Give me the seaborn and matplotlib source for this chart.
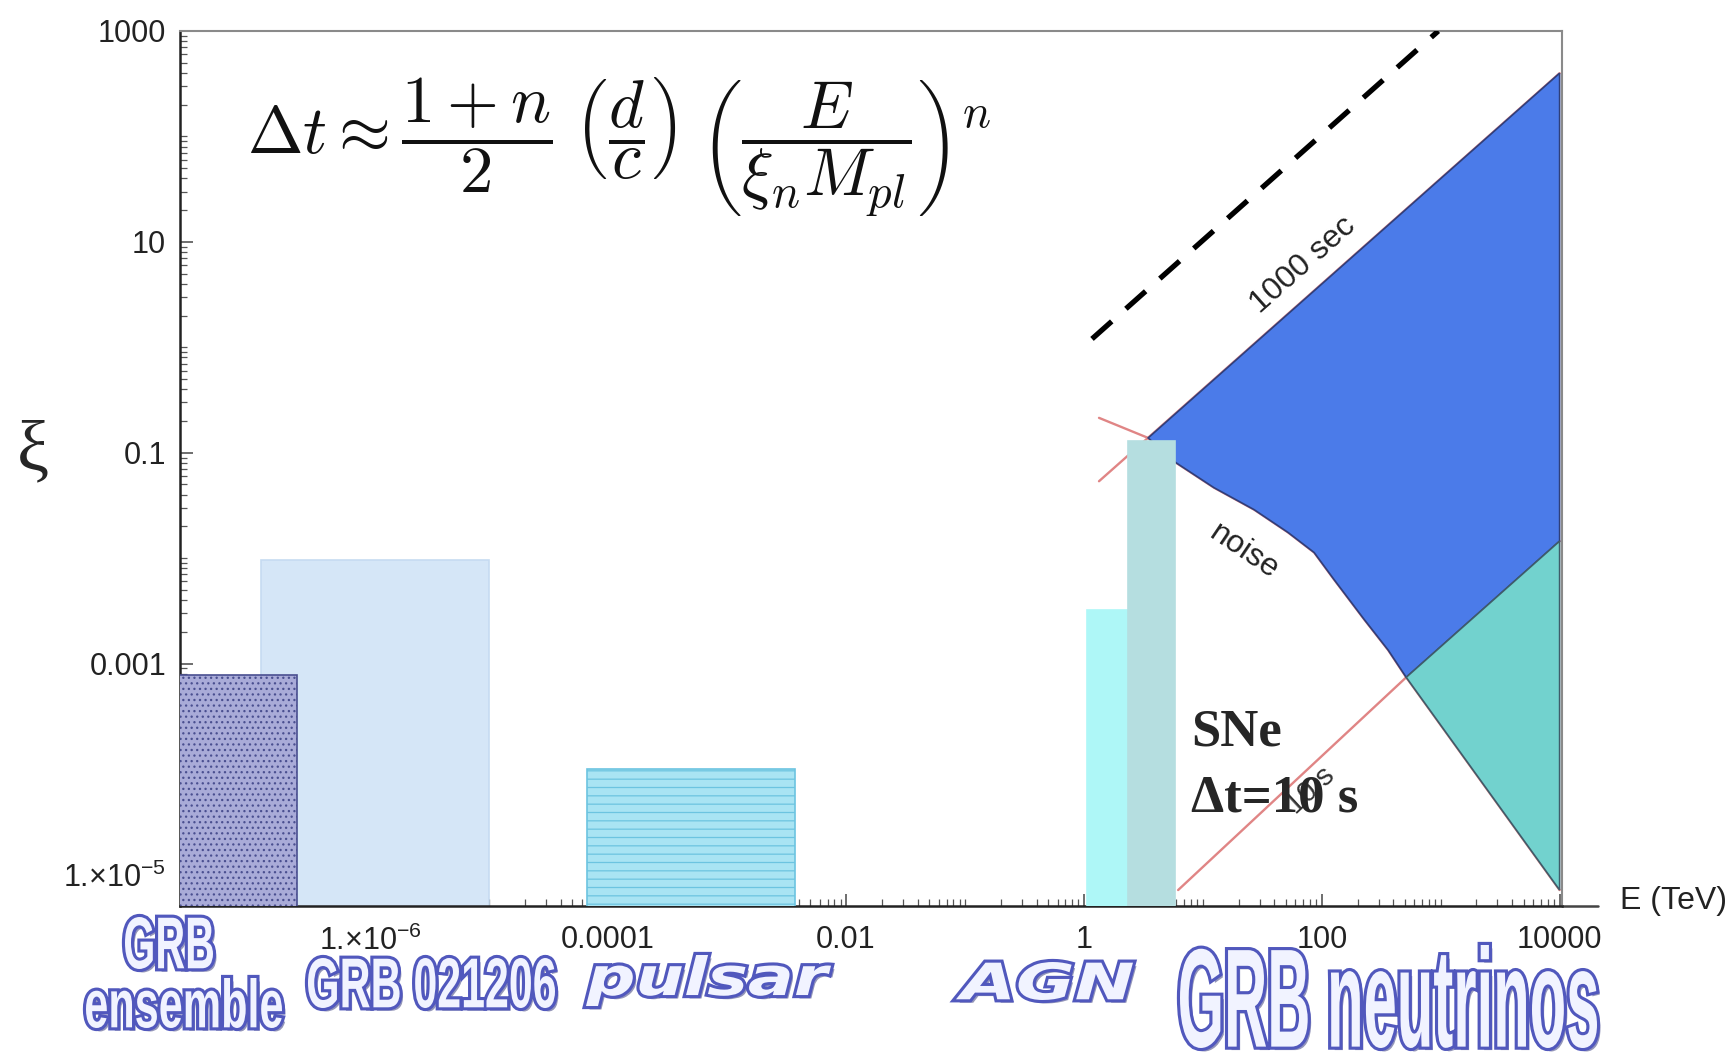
import numpy as np
import pandas as pd
import matplotlib
matplotlib.use("Agg")
import matplotlib.pyplot as plt
import matplotlib.patheffects as pe
from matplotlib.textpath import TextPath
from matplotlib.patches import PathPatch
from matplotlib.font_manager import FontProperties
from matplotlib.transforms import Affine2D, IdentityTransform
from matplotlib.ticker import LogLocator, NullFormatter
import seaborn as sns

W, H = 1733, 1052

# Fontes / limites
source_names = ['GRB 021206', 'GRB ensemble', 'pulsar', 'AGN', 'SNe']
e_low = [1.2e-7, 1e-8, 6.7e-5, 1.07, 2.36]
e_high = [1.0e-5, 2.4e-7, 3.7e-3, 2.36, 5.8]
xi_limit = [9.5e-3, 7.8e-4, 1.0e-4, 3.2e-3, 0.13]
bar_colors = ['#d5e6f7', '#a9abd8', '#a9e4f3', '#aef7f7', '#b5dee0']
bar_edges = ['#c6dbf1', '#4a4f90', '#6cc4e0', '#aef7f7', '#b5dee0']
bar_hatch = [None, '...', '--', None, None]

# Regiao de sensibilidade dos neutrinos de GRB
sec1000_E = [1.34, 10000]
sec1000_xi = [0.0536, 398]
noise_E = [1.34, 3.47, 5.94, 12.4, 27.0, 52.1, 86.3, 127, 228, 362, 513, 10000]
noise_xi = [0.214, 0.138, 0.0804, 0.0466, 0.0288, 0.0175, 0.0113, 6.25e-3, 2.61e-3, 1.34e-3, 7.4e-4, 7.1e-6]
split_E = [6.2, 513, 10000]
split_xi = [7.1e-6, 7.4e-4, 0.0145]
dash_E = [1.17, 955]
dash_xi = [1.2, 1000]

x_ticks = [1e-6, 1e-4, 1e-2, 1, 100, 1e4]
x_labels = [r'1.×10$^{-6}$', '0.0001', '0.01', '1', '100', '10000']
y_ticks = [1e3, 10, 0.1, 1e-3, 1e-5]
y_labels = ['1000', '10', '0.1', '0.001', r'1.×10$^{-5}$']

sns.set_theme(style='ticks')
plt.rcParams['font.family'] = ['Liberation Sans', 'DejaVu Sans']
plt.rcParams['mathtext.fontset'] = 'custom'
plt.rcParams['mathtext.rm'] = 'Liberation Sans'
plt.rcParams['mathtext.it'] = 'Liberation Sans:italic'
plt.rcParams['mathtext.bf'] = 'Liberation Sans:bold'
plt.rcParams['hatch.linewidth'] = 0.9

fig = plt.figure(figsize=(W / 100, H / 100), dpi=100)
ax = fig.add_axes([180 / W, 1 - 906 / H, 1382 / W, 875 / H])
ax.set_xscale('log')
ax.set_yscale('log')
ax.set_xlim(10 ** -7.6, 10 ** 4.02)
ax.set_ylim(10 ** -5.3, 1e3)

df = pd.DataFrame({'fonte': source_names, 'e_low': e_low, 'e_high': e_high,
                   'xi': xi_limit, 'cor': bar_colors, 'borda': bar_edges, 'hatch': bar_hatch})
floor = 1e-7
zs = {'GRB 021206': 2, 'GRB ensemble': 3, 'pulsar': 3, 'AGN': 3, 'SNe': 6}
for _, r in df.iterrows():
    ax.bar(r['e_low'], r['xi'] - floor, width=r['e_high'] - r['e_low'], bottom=floor,
           align='edge', color=r['cor'], edgecolor=r['borda'], hatch=r['hatch'],
           linewidth=1.2, zorder=zs[r['fonte']])

# linhas vermelhas finas
for xs, ys in [(sec1000_E, sec1000_xi), (noise_E, noise_xi), (split_E, split_xi)]:
    sns.lineplot(x=xs, y=ys, ax=ax, color='#e08585', linewidth=1.7, sort=False,
                 estimator=None, zorder=4)

blue_E = [noise_E[1], sec1000_E[1], split_E[2], split_E[1]] + noise_E[9:0:-1]
blue_xi = [noise_xi[1], sec1000_xi[1], split_xi[2], split_xi[1]] + noise_xi[9:0:-1]
ax.fill(blue_E, blue_xi, facecolor='#4b7be9', edgecolor='#2f3f7a', linewidth=1.2, zorder=5)
teal_E = [split_E[1], split_E[2], noise_E[-1]]
teal_xi = [split_xi[1], split_xi[2], noise_xi[-1]]
ax.fill(teal_E, teal_xi, facecolor='#72d2ce', edgecolor='#3f5c6a', linewidth=1.2, zorder=5)

sns.lineplot(x=dash_E, y=dash_xi, ax=ax, color='black', linewidth=3.8, sort=False,
             estimator=None, zorder=7)
ax.lines[-1].set_dashes([5, 3.6])

ax.text(10 ** 1.84, 10 ** 0.78, '1000 sec', rotation=41.6, rotation_mode='anchor',
        ha='center', va='center', fontsize=23, color='#222222', zorder=8)
ax.text(10 ** 1.35, 10 ** -1.94, 'noise', rotation=-34, rotation_mode='anchor',
        ha='center', va='center', fontsize=23, color='#222222', zorder=8)
ax.text(10 ** 1.91, 10 ** -4.2, '10 s', rotation=43, rotation_mode='anchor',
        ha='center', va='center', fontsize=21, color='#333333', zorder=8)

# eixos
ax.set_xticks(x_ticks, x_labels)
ax.set_yticks(y_ticks, y_labels)
ax.xaxis.set_minor_locator(LogLocator(base=10, subs=np.arange(1, 10), numticks=200))
ax.yaxis.set_minor_locator(LogLocator(base=10, subs=np.arange(1, 10), numticks=200))
ax.xaxis.set_minor_formatter(NullFormatter())
ax.yaxis.set_minor_formatter(NullFormatter())
ax.tick_params(which='both', direction='in', color='#555555', labelsize=22,
               labelcolor='#222222', top=False, right=False)
ax.tick_params(which='major', length=9, width=1.2)
ax.tick_params(which='minor', length=5, width=0.9)
ax.tick_params(axis='x', pad=14)
ax.tick_params(axis='y', pad=10)
for s in ['left', 'bottom']:
    ax.spines[s].set_color('#222222')
    ax.spines[s].set_linewidth(1.8)
for s in ['top', 'right']:
    ax.spines[s].set_color('#8a8a8a')
    ax.spines[s].set_linewidth(1.5)
ax.plot([1, 1.026], [0, 0], transform=ax.transAxes, clip_on=False, color='#444444', lw=1.8)
ax.grid(False)

# textos
formula = (r'$\Delta t \approx \dfrac{1+n}{2}\;\left(\dfrac{d}{c}\right)\;'
           r'\left(\dfrac{E}{\xi_n M_{pl}}\right)^n$')
fig.text(619 / W, 1 - 147 / H, formula, fontsize=48, math_fontfamily='cm',
         ha='center', va='center', color='#111111')
fig.text(33 / W, 1 - 453 / H, 'ξ', family=['Liberation Serif', 'DejaVu Serif'], fontsize=52,
         ha='center', va='center')
fig.text(1674 / W, 1 - 901 / H, 'E (TeV)', fontsize=23, ha='center', va='center', color='#222222')
fig.text(1191 / W, 1 - 746 / H, 'SNe', family=['Liberation Serif', 'DejaVu Serif'],
         weight='bold', fontsize=38, va='baseline', zorder=10)
fig.text(1191 / W, 1 - 812 / H, 'Δt=10 s', family=['Liberation Serif', 'DejaVu Serif'],
         weight='bold', fontsize=38, va='baseline', zorder=10)

# rotulos desenhados com contorno azul
narrow = FontProperties(family=['Liberation Sans Narrow', 'Liberation Sans', 'DejaVu Sans'], weight='bold')
wide = FontProperties(family=['DejaVu Sans'], weight='bold', style='oblique')
efeitos = [pe.SimplePatchShadow(offset=(2.5, -2.5), shadow_rgbFace='#3c4080', alpha=0.55),
           pe.Stroke(linewidth=4.5, foreground='#5158bd'), pe.Normal()]


def rotulo(texto, caixa, prop):
    x0, x1, yt, yb = caixa
    tp = TextPath((0, 0), texto, size=100, prop=prop)
    ext = tp.get_extents()
    tr = (Affine2D().translate(-ext.x0, -ext.y0)
          .scale((x1 - x0) / ext.width, (yb - yt) / ext.height)
          .translate(x0, H - yb))
    p = PathPatch(tr.transform_path(tp), facecolor='#f1f3ff', edgecolor='none',
                  transform=IdentityTransform(), path_effects=efeitos)
    fig.add_artist(p)


rotulo('GRB', (125, 213, 917, 969), narrow)
rotulo('ensemble', (86, 282, 978, 1028), narrow)
rotulo('GRB 021206', (308, 555, 958, 1008), narrow)
rotulo('pulsar', (586, 831, 955, 1006), wide)
rotulo('AGN', (956, 1133, 962, 1000), wide)
rotulo('GRB neutrinos', (1180, 1597, 945, 1048), narrow)

plt.savefig('out.png', dpi=100)
